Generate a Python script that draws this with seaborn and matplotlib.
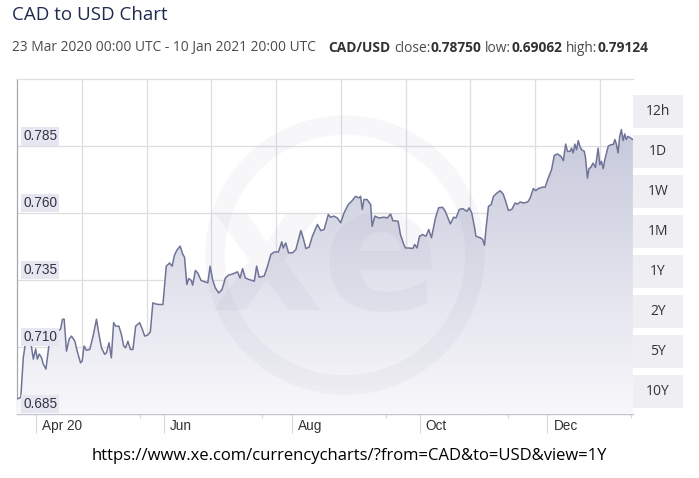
import numpy as np
import pandas as pd
import matplotlib
matplotlib.use("Agg")
import matplotlib.pyplot as plt
import matplotlib.dates as mdates
from matplotlib.colors import LinearSegmentedColormap
from matplotlib.patches import Rectangle, Circle
from matplotlib.transforms import IdentityTransform
import seaborn as sns

# CAD/USD close (days after 23 Mar 2020 00:00 UTC)
day_offset = [
    0, 1.8, 3.0, 4.6, 6.2, 7.8, 8.9, 9.7, 10.6, 11.7,
    12.5, 13.8, 14.9, 15.7, 17.0, 18.5, 19.6, 20.8, 21.7, 22.5,
    23.6, 24.9, 26.0, 27.6, 28.7, 30.3, 31.1, 32.0, 33.1, 34.7,
    36.3, 37.9, 39.1, 40.3, 41.8, 42.7, 43.9, 45.0, 46.1, 47.1,
    48.6, 49.8, 50.9, 51.8, 52.9, 54.1, 55.3, 56.6, 58.5, 59.8,
    60.9, 62.4, 63.6, 64.8, 66.1, 67.7, 69.6, 71.2, 72.8, 74.0,
    75.1, 76.2, 77.8, 79.1, 79.9, 81.0, 81.9, 83.1, 83.8, 85.1,
    86.2, 87.8, 89.4, 91.0, 92.1, 93.3, 94.6, 96.2, 97.8, 99.4,
    101.0, 102.9, 105.2, 106.4, 107.6, 108.9, 110.8, 113.2, 114.3, 115.5,
    117.9, 119.5, 121.1, 122.7, 124.7, 126.3, 127.0, 128.2, 129.5, 131.4,
    133.0, 135.4, 136.5, 137.8, 139.3, 140.9, 143.3, 144.9, 146.5, 148.5,
    149.6, 151.2, 152.8, 154.4, 156.0, 158.0, 159.9, 161.5, 163.1, 163.9,
    164.7, 165.5, 167.0, 168.7, 169.4, 170.7, 172.6, 175.0, 176.6, 178.2,
    179.3, 181.8, 182.9, 184.5, 185.3, 186.9, 188.8, 189.7, 190.8, 192.0,
    193.5, 195.1, 196.4, 197.7, 199.6, 201.1, 203.0, 204.3, 205.9, 206.7,
    208.3, 209.4, 211.0, 212.6, 214.6, 215.7, 216.9, 218.3, 218.9, 221.0,
    222.1, 223.0, 223.6, 224.9, 226.2, 227.3, 228.9, 230.5, 232.0, 233.1,
    234.4, 236.0, 237.6, 238.8, 240.0, 241.6, 243.6, 244.7, 246.3, 247.4,
    248.7, 250.6, 251.9, 253.4, 255.0, 256.3, 257.9, 259.5, 260.6, 261.7,
    262.6, 263.8, 264.5, 265.3, 266.1, 266.9, 267.7, 268.5, 269.3, 270.6,
    271.2, 272.1, 272.8, 273.7, 274.8, 275.9, 277.2, 278.0, 278.8, 279.6,
    280.4, 282.0, 283.3, 284.4, 285.2, 285.9, 286.7, 287.5, 288.3, 289.1,
    289.9, 290.6, 291.4, 293.8,
]
rate = [
    0.6906, 0.6912, 0.7060, 0.7147, 0.7135, 0.7055, 0.7093, 0.7055, 0.7074, 0.7060,
    0.7037, 0.7018, 0.7085, 0.7135, 0.7141, 0.7167, 0.7160, 0.7167, 0.7204, 0.7204,
    0.7085, 0.7130, 0.7141, 0.7122, 0.7085, 0.7041, 0.7048, 0.7104, 0.7088, 0.7091,
    0.7141, 0.7204, 0.7147, 0.7097, 0.7073, 0.7079, 0.7116, 0.7060, 0.7191, 0.7178,
    0.7178, 0.7147, 0.7104, 0.7097, 0.7122, 0.7091, 0.7091, 0.7178, 0.7191, 0.7166,
    0.7141, 0.7145, 0.7157, 0.7265, 0.7261, 0.7259, 0.7259, 0.7402, 0.7414, 0.7402,
    0.7443, 0.7461, 0.7477, 0.7446, 0.7436, 0.7334, 0.7356, 0.7349, 0.7331, 0.7386,
    0.7377, 0.7349, 0.7344, 0.7340, 0.7402, 0.7352, 0.7321, 0.7302, 0.7315, 0.7358,
    0.7369, 0.7373, 0.7381, 0.7358, 0.7393, 0.7358, 0.7352, 0.7346, 0.7402, 0.7361,
    0.7365, 0.7402, 0.7446, 0.7455, 0.7455, 0.7493, 0.7470, 0.7489, 0.7452, 0.7452,
    0.7464, 0.7535, 0.7508, 0.7468, 0.7473, 0.7514, 0.7558, 0.7535, 0.7539, 0.7595,
    0.7585, 0.7589, 0.7582, 0.7564, 0.7601, 0.7632, 0.7647, 0.7663, 0.7657, 0.7663,
    0.7614, 0.7651, 0.7651, 0.7632, 0.7551, 0.7589, 0.7582, 0.7585, 0.7582, 0.7597,
    0.7572, 0.7570, 0.7520, 0.7483, 0.7470, 0.7470, 0.7468, 0.7483, 0.7470, 0.7514,
    0.7520, 0.7514, 0.7539, 0.7508, 0.7582, 0.7620, 0.7622, 0.7607, 0.7576, 0.7560,
    0.7585, 0.7582, 0.7614, 0.7617, 0.7607, 0.7620, 0.7601, 0.7545, 0.7514, 0.7508,
    0.7502, 0.7480, 0.7533, 0.7626, 0.7632, 0.7663, 0.7675, 0.7684, 0.7670, 0.7644,
    0.7610, 0.7614, 0.7638, 0.7634, 0.7642, 0.7638, 0.7642, 0.7655, 0.7692, 0.7684,
    0.7692, 0.7697, 0.7697, 0.7731, 0.7763, 0.7816, 0.7821, 0.7812, 0.7796, 0.7858,
    0.7831, 0.7831, 0.7843, 0.7825, 0.7858, 0.7837, 0.7871, 0.7850, 0.7837, 0.7831,
    0.7806, 0.7731, 0.7766, 0.7771, 0.7787, 0.7771, 0.7843, 0.7781, 0.7794, 0.7766,
    0.7800, 0.7850, 0.7856, 0.7856, 0.7875, 0.7858, 0.7825, 0.7887, 0.7912, 0.7871,
    0.7896, 0.7875, 0.7887, 0.7875,
]

y_ticks = [0.685, 0.710, 0.735, 0.760, 0.785]
x_tick_dates = ["2020-04-01", "2020-06-01", "2020-08-01", "2020-10-01", "2020-12-01"]
x_tick_labels = ["Apr 20", "Jun", "Aug", "Oct", "Dec"]
range_buttons = ["12h", "1D", "1W", "1M", "1Y", "2Y", "5Y", "10Y"]

start = pd.Timestamp("2020-03-23 00:00")
end = pd.Timestamp("2021-01-10 20:00")
df = pd.DataFrame({
    "date": start + pd.to_timedelta(day_offset, unit="D"),
    "rate": rate,
})

W, H = 699, 478
sns.set_theme(style="white")
plt.rcParams["font.family"] = ["Liberation Sans", "DejaVu Sans"]

fig = plt.figure(figsize=(W / 100, H / 100), dpi=100)
fig.patch.set_facecolor("white")


def fx(px):
    return px / W


def fy(py):
    return 1 - py / H


ax = fig.add_axes([fx(17), fy(414), fx(633) - fx(17), fy(79.3) - fy(414)])
ax.set_facecolor("white")
Y0, Y1 = 0.685, 0.81
x0, x1 = mdates.date2num(start), mdates.date2num(end)

# line + gradient area
sns.lineplot(data=df, x="date", y="rate", ax=ax, color="#6f7497",
             linewidth=1.1, zorder=5)
poly = ax.fill_between(df["date"], df["rate"], Y0, facecolor="none",
                       edgecolor="none")
cmap = LinearSegmentedColormap.from_list("fade", ["#f8f8fb", "#bec1d6"])
grad = np.linspace(0, 1, 256).reshape(-1, 1)
im = ax.imshow(grad, extent=[x0, x1, Y0, Y1], origin="lower", aspect="auto",
               cmap=cmap, zorder=3)
im.set_clip_path(poly.get_paths()[0], ax.transData)

# faint xe watermark
mark = (0.42, 0.42, 0.55, 0.05)
ax.add_patch(Circle((345, H - 255), 130, transform=IdentityTransform(),
                    fill=False, lw=14, ec=mark, zorder=4))
ax.text(325, H - 262, "xe", transform=IdentityTransform(), fontsize=125,
        fontweight="bold", family="DejaVu Sans", ha="center", va="center",
        color=mark, zorder=4)

ax.set_xlim(x0, x1)
ax.set_ylim(Y0, Y1)

# grid
for v in y_ticks:
    ax.axhline(v, color="#dedee2", lw=0.9, zorder=2)
for d in np.arange(30.9, 293, 30.9):
    ax.axvline(x0 + d, color="#dedee2", lw=0.9, zorder=2)

# spines
for s in ax.spines.values():
    s.set_visible(False)
ax.spines["left"].set_visible(True)
ax.spines["left"].set_color("#a8a8b0")
ax.spines["left"].set_linewidth(0.9)
ax.spines["bottom"].set_visible(True)
ax.spines["bottom"].set_color("#c4c4ce")
ax.spines["bottom"].set_linewidth(1.0)
ax.spines["top"].set_visible(True)
ax.spines["top"].set_color("#dedee2")
ax.spines["top"].set_linewidth(0.9)

# ticks
ax.set_yticks([])
ax.set_xticks([mdates.date2num(pd.Timestamp(d)) for d in x_tick_dates])
ax.set_xticklabels([])
ax.set_xticks([x0 + d for d in (58.5, 117, 176, 234.4, 293)], minor=True)
ax.tick_params(axis="x", which="major", direction="out", length=14,
               width=0.8, color="#d6d6de", bottom=True)
ax.tick_params(axis="x", which="minor", direction="out", length=3,
               width=0.8, color="#d6d6de", bottom=True)
ax.set_xlabel("")
ax.set_ylabel("")

for d, lab in zip(x_tick_dates, x_tick_labels):
    ax.annotate(lab, xy=(mdates.date2num(pd.Timestamp(d)), 0),
                xycoords=("data", "axes fraction"), xytext=(4.5, -3.5),
                textcoords="offset points", ha="left", va="top",
                fontsize=9.8, color="#333333")

for v in y_ticks:
    ax.annotate(f"{v:.3f}", xy=(0, v), xycoords=("axes fraction", "data"),
                xytext=(4.5, 2), textcoords="offset points", ha="left",
                va="bottom", fontsize=9.8, color="#333344", zorder=6,
                bbox=dict(boxstyle="square,pad=0.15", fc="#e6e6f0",
                          ec="none"))

# range buttons on the right
for i, lab in enumerate(range_buttons):
    top = 95 + 40 * i
    fig.patches.append(Rectangle((fx(633), fy(top + 33)), fx(50), 33 / H,
                                 transform=fig.transFigure, fc="#efeff3",
                                 ec="none"))
    fig.text(fx(658), fy(top + 16.5), lab, ha="center", va="center",
             fontsize=10, family="Open Sans", color="#333333")

# title and subtitle
fig.text(fx(12), fy(15), "CAD to USD Chart", ha="left", va="center",
         fontsize=13.5, family="Open Sans", color="#1d2b4f")

renderer = fig.canvas.get_renderer()
segments = [
    ("23 Mar 2020 00:00 UTC - 10 Jan 2021 20:00 UTC", "normal", 0),
    ("CAD/USD", "bold", 12),
    ("close:", "normal", 4),
    ("0.78750", "bold", 0),
    ("low:", "normal", 4),
    ("0.69062", "bold", 0),
    ("high:", "normal", 4),
    ("0.79124", "bold", 0),
]
xpos = 12
for txt, wt, gap in segments:
    xpos += gap
    t = fig.text(fx(xpos), fy(48), txt, ha="left", va="center",
                 fontsize=9.95, family="Open Sans", fontweight=wt,
                 color="#333333" if wt == "bold" else "#4a4a4a")
    xpos = t.get_window_extent(renderer).x1

fig.text(fx(349), fy(456),
         "https://www.xe.com/currencycharts/?from=CAD&to=USD&view=1Y",
         ha="center", va="center", fontsize=12, family="Open Sans",
         color="black")

fig.savefig("out.png", dpi=100)
